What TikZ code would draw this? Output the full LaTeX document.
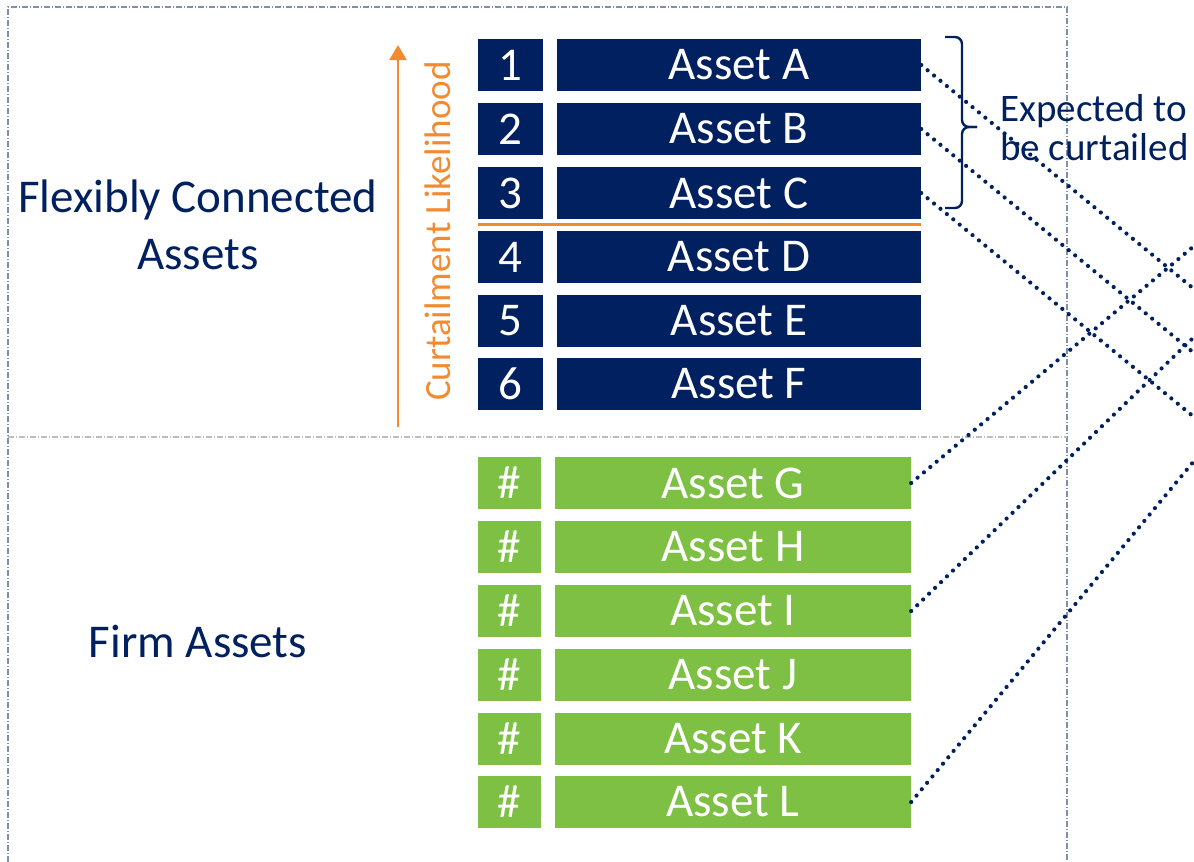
\documentclass[tikz,border=0pt]{standalone}
\usepackage{fontspec}
\setmainfont{Carlito}
\usetikzlibrary{arrows.meta}
\definecolor{navyasset}{HTML}{002060}
\definecolor{greenasset}{HTML}{7DC043}
\definecolor{orangeaxis}{HTML}{F28A30}
\definecolor{framegray}{HTML}{7F8FAE}
\definecolor{sepgray}{HTML}{BDBDBD}
\tikzset{
    numbox/.style = {rectangle, fill=navyasset, text=white, inner sep=0pt, minimum width=65pt, minimum height=52pt, font=\fontsize{47}{50}\selectfont},
    assetbox/.style = {numbox, minimum width=364pt},
    hashbox/.style = {numbox, fill=greenasset, minimum width=63pt},
    firmbox/.style = {numbox, fill=greenasset, minimum width=356pt},
    grouplabel/.style = {align=center, inner sep=0pt, text=navyasset, font=\fontsize{47}{57}\selectfont},
    noteText/.style = {align=left, inner sep=0pt, text=navyasset, font=\fontsize{39}{39}\selectfont},
    axislabel/.style = {rotate=90, inner sep=0pt, text=orangeaxis, font=\fontsize{37}{40}\selectfont},
    frameline/.style = {draw=framegray, line width=1.3pt, dash pattern=on 6pt off 2pt on 1pt off 2pt},
    sepline/.style = {draw=sepgray, line width=1.3pt, dash pattern=on 6pt off 2pt on 1pt off 2pt},
    axisline/.style = {draw=orangeaxis, line width=2.6pt, -{Triangle[width=17pt,length=15pt]}},
    cutline/.style = {draw=orangeaxis, line width=3pt},
    bracket/.style = {draw=navyasset, line width=2.4pt, rounded corners=7pt},
    edged/.style = {draw=navyasset, line width=4.2pt, dash pattern=on 0pt off 8.3pt, line cap=round} % links
}

\begin{document}
\begin{tikzpicture}[x=1pt,y=-1pt]
\useasboundingbox (0,0) rectangle (1194,862);
%
\draw[frameline] (8,862) -- (8,7) -- (1067,7) -- (1067,862);
\draw[sepline] (8,437) -- (1067,437);
%
\node[grouplabel] at (198,225) (flex) {Flexibly Connected\\Assets};
\node[grouplabel] at (198,641) (firm) {Firm Assets};
%
\node[numbox] at (510.5,65) (n1) {1};
\node[numbox] at (510.5,129) (n2) {2};
\node[numbox] at (510.5,193) (n3) {3};
\node[numbox] at (510.5,257) (n4) {4};
\node[numbox] at (510.5,321) (n5) {5};
\node[numbox] at (510.5,384) (n6) {6};
\node[assetbox] at (739,65) (a) {Asset A};
\node[assetbox] at (739,129) (b) {Asset B};
\node[assetbox] at (739,193) (c) {Asset C};
\node[assetbox] at (739,257) (d) {Asset D};
\node[assetbox] at (739,321) (e) {Asset E};
\node[assetbox] at (739,384) (f) {Asset F};
%
\node[hashbox] at (509.5,483) (hg) {\#};
\node[hashbox] at (509.5,547) (hh) {\#};
\node[hashbox] at (509.5,611) (hi) {\#};
\node[hashbox] at (509.5,675) (hj) {\#};
\node[hashbox] at (509.5,739) (hk) {\#};
\node[hashbox] at (509.5,802) (hl) {\#};
\node[firmbox] at (733,483) (g) {Asset G};
\node[firmbox] at (733,547) (h) {Asset H};
\node[firmbox] at (733,611) (i) {Asset I};
\node[firmbox] at (733,675) (j) {Asset J};
\node[firmbox] at (733,739) (k) {Asset K};
\node[firmbox] at (733,802) (l) {Asset L};
%
\coordinate (lowend) at (398,427);
\coordinate (highend) at (398,45);
\draw[axisline] (lowend) -- (highend);
\node[axislabel] at (438,231) (likely) {Curtailment Likelihood};
\draw[cutline] ([yshift=-5pt]n3.south west) -- ([yshift=-5pt]c.south east);
%
\draw[bracket] (945,37) -- (962,37) -- (962,127) -- (977,127);
\draw[bracket] (977,127) -- (962,127) -- (962,208) -- (945,208);
\node[noteText, anchor=west] at (1000,128) (note) {Expected to\\be curtailed};
%
\coordinate (ea) at (1194,289);
\coordinate (eb) at (1194,353);
\coordinate (ec) at (1194,417);
\coordinate (eg) at (1194,246);
\coordinate (ei) at (1194,337);
\coordinate (el) at (1194,461);
\draw[edged] (a.east) -- (ea);
\draw[edged] (b.east) -- (eb);
\draw[edged] (c.east) -- (ec);
\draw[edged] (g.east) -- (eg);
\draw[edged] (i.east) -- (ei);
\draw[edged] (l.east) -- (el);
\end{tikzpicture}
\end{document}
